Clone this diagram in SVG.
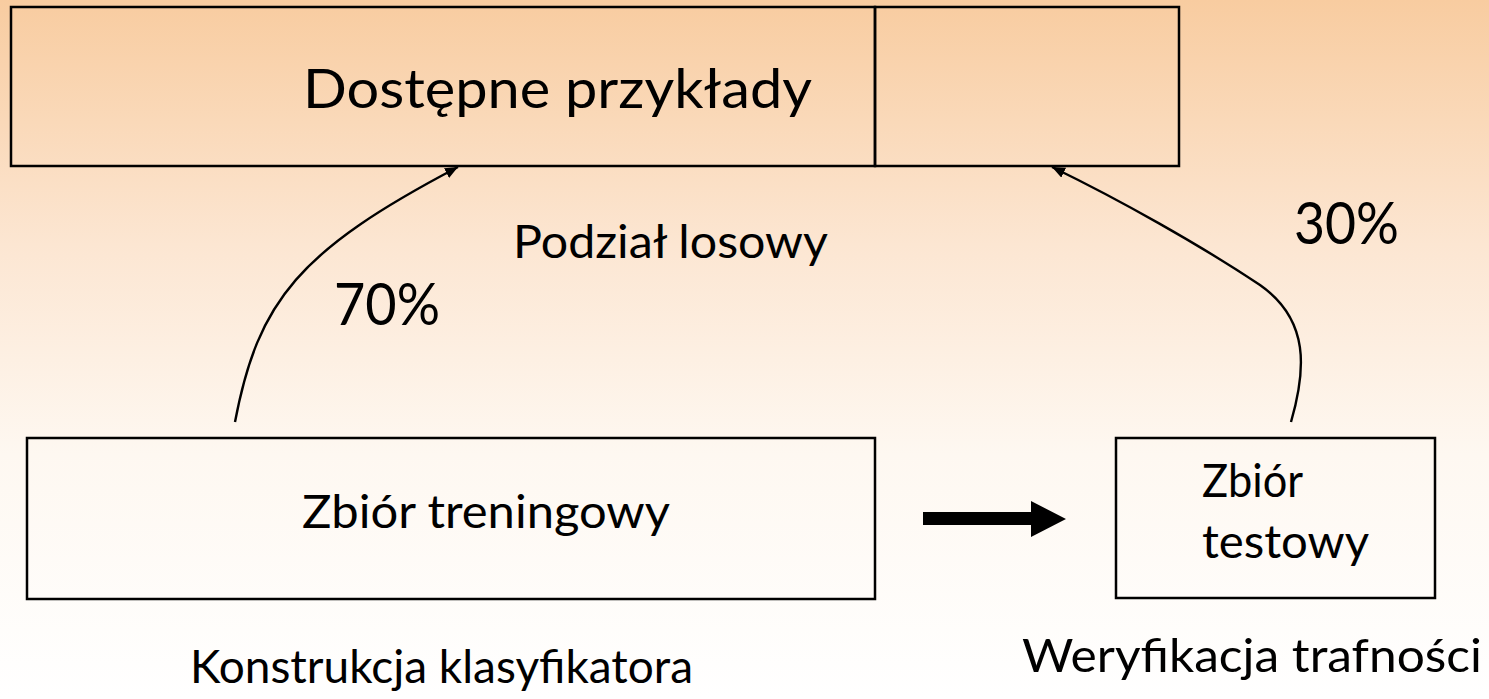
<svg xmlns="http://www.w3.org/2000/svg" width="1489" height="699" viewBox="0 0 1489 699">
  <defs>
    <linearGradient id="bg" x1="0" y1="0" x2="0" y2="1">
      <stop offset="0" stop-color="#F8CCA0"/>
      <stop offset="0.35" stop-color="#FCE6D2"/>
      <stop offset="0.65" stop-color="#FEF8F1"/>
      <stop offset="1" stop-color="#FFFFFF"/>
    </linearGradient>
    <marker id="head" viewBox="0 0 10 10" refX="10" refY="5" markerWidth="13" markerHeight="11" markerUnits="userSpaceOnUse" orient="auto" preserveAspectRatio="none">
      <path d="M0,0 L10,5 L0,10 Z" fill="#000"/>
    </marker>
    <style>
      .box { fill: none; stroke: #000; stroke-width: 2.5; }
      .lbl { font-family: Lato, "Open Sans", "Liberation Sans", sans-serif; fill: #000; }
      .link { fill: none; stroke: #000; stroke-width: 2.4; marker-end: url(#head); }
    </style>
  </defs>

  <rect x="0" y="0" width="1489" height="699" fill="url(#bg)"/>

  <!-- source set, split into two parts -->
  <g id="dostepne">
    <rect class="box" x="11" y="7" width="864" height="159"/>
    <text class="lbl" x="303" y="108" font-size="54" textLength="509" lengthAdjust="spacingAndGlyphs">Dostępne przykłady</text>
  </g>
  <g id="dostepne-reszta">
    <rect class="box" x="875" y="7" width="304" height="159"/>
  </g>

  <g id="treningowy">
    <rect class="box" x="27" y="438" width="848" height="161"/>
    <text class="lbl" x="302" y="528" font-size="47" textLength="368" lengthAdjust="spacingAndGlyphs">Zbiór treningowy</text>
  </g>

  <g id="testowy">
    <rect class="box" x="1116" y="438" width="319" height="160"/>
    <text class="lbl" x="1202" y="497" font-size="47" textLength="101" lengthAdjust="spacingAndGlyphs">Zbiór</text>
    <text class="lbl" x="1202" y="558" font-size="47" textLength="167" lengthAdjust="spacingAndGlyphs">testowy</text>
  </g>

  <!-- free labels -->
  <g id="labels">
    <text class="lbl" x="513" y="258" font-size="47" textLength="315" lengthAdjust="spacingAndGlyphs">Podział losowy</text>
    <text class="lbl" x="334" y="325" font-size="58" textLength="106" lengthAdjust="spacingAndGlyphs">70%</text>
    <text class="lbl" x="1294" y="244" font-size="58" textLength="105" lengthAdjust="spacingAndGlyphs">30%</text>
    <text class="lbl" x="190" y="683" font-size="47" textLength="503" lengthAdjust="spacingAndGlyphs">Konstrukcja klasyfikatora</text>
    <text class="lbl" x="1022" y="672" font-size="47" textLength="460" lengthAdjust="spacingAndGlyphs">Weryfikacja trafności</text>
  </g>

  <g id="connectors">
    <path class="link" d="M235,422 C258,300 300,250 458,167"/>
    <path class="link" d="M1291,422 C1306,370 1310,320 1260,285 C1200,245 1120,200 1052,167"/>
    <polygon points="923,512 1031,512 1031,501 1066,519 1031,537 1031,525 923,525" fill="#000"/>
  </g>
</svg>
